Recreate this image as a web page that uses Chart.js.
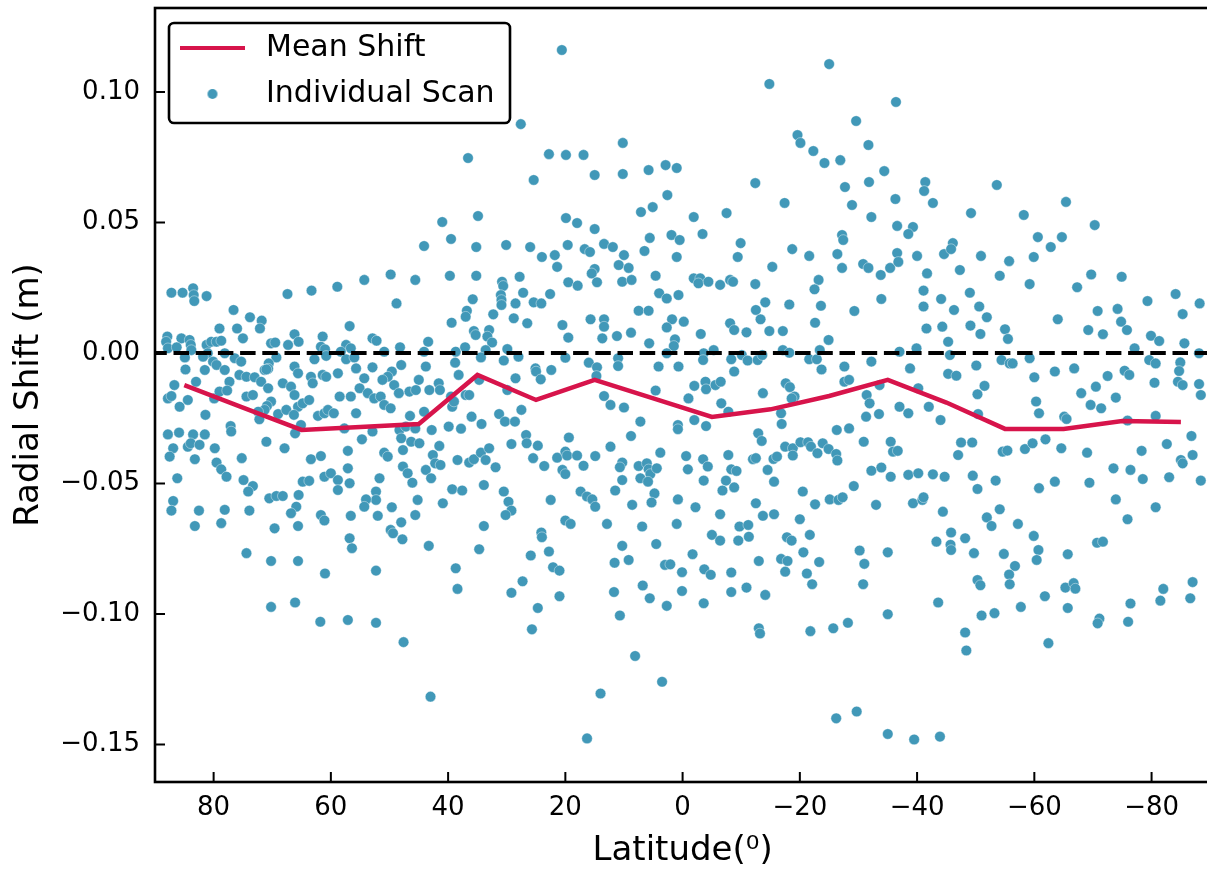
<!DOCTYPE html>
<html>
<head>
<meta charset="utf-8">
<script src="https://cdn.jsdelivr.net/npm/chart.js@4.4.1/dist/chart.umd.min.js"></script>
<style>
  html, body { margin: 0; padding: 0; background: #fff; overflow: hidden; }
  #wrap { position: relative; width: 1216px; height: 873px; }
</style>
</head>
<body>
<div id="wrap"><canvas id="shiftChart"></canvas></div>
<script>
// mean shift per 10 degree latitude bin
const meanLat = [85, 75, 65, 55, 45, 35, 25, 15, 5, -5, -15, -25, -35, -45, -55, -65, -75, -85];
const meanShift = [-0.0123, -0.0209, -0.0295, -0.0284, -0.0272, -0.0084, -0.0180, -0.0103, -0.0174,
  -0.0245, -0.0216, -0.0165, -0.0103, -0.0190, -0.0291, -0.0291, -0.0261, -0.0264];

// individual scans (latitude in degrees, radial shift in m)
const scanLat = [
  20.6, 27.6, 36.6, 22.8, 19.9, 16.9, 10.2, 25.4, 15.0, 10.2,
  5.8, 2.9, 1.0, 2.6, 7.1, 5.1, 41.0, 34.9, 19.9, 18.0,
  15.0, 39.5, 44.1, 35.2, 30.1, 26.0, 24.0, 21.8, 19.6, 16.7,
  15.8, 13.4, 11.9, 10.0, 10.9, 9.2, 5.6, 6.5, 1.9, 0.5,
  1.0, 21.4, 15.0,
  -25.0, -14.8, -36.4, -29.6, -19.6, -20.1, -22.3, -24.2, -26.9, -31.7,
  -34.4, -12.4, -27.7, -31.8, -41.4, -41.2, -42.7, -36.3, -17.4, -28.9,
  -32.2, -1.9, -7.5, -3.4, -9.9, -9.4, -18.7, -21.6, -15.3, -27.2,
  -27.4, -26.4, -27.2, -30.8, -31.7, -35.4, -36.6, -36.8, -36.6, -39.3,
  -38.5, -40.0, -44.6,
  -53.6, -49.2, -58.2, -65.4, -70.3, -60.6, -64.7, -62.8, -46.1, -45.8,
  -50.9, -55.7, -59.9, -47.3,
  87.2, 85.3, 83.5, 83.4, 83.3, 81.2, 67.4, 63.3, 58.9, 54.3,
  49.8, 45.6, 48.8, 76.6, 73.8, 71.8, 72.1, 79.0, 76.0, 56.8,
  87.9, 85.5, 84.1, 75.0, 66.2, 61.4, 52.9, 88.1, 83.9, 81.2,
  80.4, 79.5, 78.7, 65.5, 70.2, 69.5, 67.3, 61.7, 61.0, 57.4,
  56.6, 52.2, 50.9, 48.2, 87.8, 86.3, 83.8, 81.0, 78.1, 58.3,
  84.9, 81.8, 80.1, 79.5, 76.4, 75.3, 69.3, 62.8, 60.8, 57.4,
  56.0, 70.6, 70.7, 71.3, 66.2, 65.6, 55.7, 52.9, 48.0, 84.8,
  81.5, 78.1, 71.0, 49.6, 50.3, 51.2, 83.0, 86.7, 77.3, 75.6,
  74.4, 73.0, 71.9, 68.2, 66.8, 63.4, 63.1, 61.4, 60.8, 58.8,
  54.3, 49.2, 45.0, 87.8, 87.2, 85.8, 84.4, 79.9, 79.0, 77.7,
  74.4, 73.3, 70.7, 70.2, 70.9, 71.3, 72.4, 69.0, 67.6, 66.2,
  65.6, 66.3, 64.8, 63.7, 62.2, 61.1, 60.5, 59.5, 58.5, 56.6,
  55.7, 55.1, 53.7, 52.6, 51.5, 50.9, 49.8, 48.4, 46.6, 45.5,
  46.5, 81.4, 72.2, 77.1, 77.0, 87.8, 85.9, 83.5, 81.5, 65.1,
  66.1, 57.7, 52.9, 48.3, 47.2, 45.6, 84.4, 83.9, 82.4, 86.9,
  79.8, 71.0, 67.9, 54.7, 48.0, 46.3, 47.7, 57.1, 87.5, 83.2,
  79.5, 78.7, 77.8, 75.2, 63.4, 61.7, 50.9, 50.3, 47.7, 46.9,
  57.1, 86.2, 74.9, 73.3, 74.1, 64.8, 63.7, 61.1, 60.0, 58.8,
  58.8, 56.8, 51.7, 46.1, 52.3, 52.3, 54.0, 70.5, 69.3, 68.2,
  65.5, 86.9, 45.2, 54.3, 49.6, 87.2, 82.5, 78.1, 73.9, 65.9,
  66.8, 61.7, 61.1, 56.6, 52.0, 45.6, 48.0, 83.2, 78.7, 69.6,
  65.6, 49.8,
  74.4, 70.2, 65.6, 61.0, 56.8, 56.4, 49.4, 47.8, 52.3, 70.2,
  66.1, 61.8, 57.1, 52.3, 47.6,
  43.3, 34.7, 38.7, 38.4, 24.1, 24.0, 25.9, 22.8, 22.1, 21.0,
  27.3, 29.2, 21.0, 24.7, 25.7, 4.5, 10.3, 11.6, 9.2, 3.0,
  2.1, 0.1, 11.7, 6.8, 5.6, 2.7, 0.1, 10.7, 8.1, 3.5,
  14.0, 16.3, 43.0,
  39.7, 35.2, 27.8, 30.8, 30.6, 31.0, 30.9, 30.9, 28.5, 27.2,
  25.4, 24.1, 22.6, 19.5, 17.9, 15.5, 14.6, 10.3, 8.7, 4.6,
  4.0, 2.7, 0.7, 35.8, 36.8, 37.0, 39.4, 32.3, 28.8, 26.5,
  20.5, 19.5, 15.7, 13.4, 13.4, 13.7, 11.2, 8.8, 7.5, 5.8,
  1.8, 2.7, 1.3, 1.5, 5.7, 35.6, 35.3, 33.0, 33.3, 32.5,
  43.4, 44.1, 38.7, 37.1, 33.6, 29.9, 28.0, 34.4, 30.5, 20.0,
  16.0, 14.6, 11.0, 11.0, 2.7, 43.8, 38.8, 38.2, 34.7, 28.5,
  25.1, 25.0, 24.2, 22.4, 14.7, 4.1, 0.7, 43.2, 41.6, 41.4,
  39.5, 39.3, 39.0, 37.0, 36.4, 29.9, 4.6, 13.4, 12.3, 10.0,
  44.1, 42.8, 39.9, 37.8, 36.0, 34.3, 31.3, 30.3, 28.6, 27.5,
  44.9, 41.5, 42.6, 42.2, 41.3, 38.4, 36.4, 35.6, 34.4, 33.6,
  33.0, 31.9, 29.2, 26.7, 26.6, 24.7, 25.5, 23.6, 21.4, 20.0,
  19.7, 19.4, 18.0, 16.9, 14.9, 12.3, 10.3, 10.7, 8.8, 7.2,
  3.8, 0.8, 0.8, 43.8, 42.9, 40.9, 39.3, 37.6, 33.9, 30.5,
  29.7, 29.2, 30.2, 20.5, 20.0, 10.3, 7.5, 6.1, 5.8, 5.5,
  4.4, 7.2, 5.9, 17.4, 16.3, 15.4, 14.9, 22.5, 11.5, 4.8,
  8.6, 5.3, 0.8, 20.0, 19.1, 33.9, 12.9, 6.9, 1.0,
  -1.9, -3.0, -2.7, -4.4, -6.4, -8.1, -8.6, -12.4, -23.2, -22.5,
  -33.8, -41.7, -41.1, -41.1, -44.1, -33.9, -14.1, -18.2, -23.6, -12.5,
  -13.3, -8.1, -8.8, -10.9, -14.8, -17.1, -22.6, -29.3, -3.1, -0.2,
  -24.9, -41.6, -44.3, -45.3, -5.3, -3.6, -3.5, -8.3, -10.1, -11.1,
  -12.8, -13.6, -17.1, -18.2, -21.6, -22.9, -23.4, -23.7, -27.6, -32.2,
  -37.0, -39.9, -38.8, -45.3, -8.8, -2.0, -3.9, -4.0, -5.6, -6.5,
  -1.0, -13.7, -17.6, -18.3, -19.1, -18.6, -27.6, -28.4, -33.6, -31.4,
  -31.9, -40.2, -6.6, -7.8, -16.8, -16.9, -31.3, -33.5, -37.0, -38.5,
  -42.0, -44.0, -2.0, -4.0, -26.3, -28.4, -12.9, -13.5, -17.5, -18.8,
  -18.8, -20.1, -21.4, -21.9, -23.0, -23.9, -24.9, -26.2, -26.4, -30.9,
  -35.5, -35.9, -36.7, -0.6, -3.5, -4.3, -7.8, -8.3, -9.2, -12.0,
  -12.5, -15.5, -16.1, -14.5, -0.9, -32.2, -33.9, -35.5, -38.5, -40.2,
  -42.7, -44.7, -3.6, -7.4, -6.8, -8.8, -15.6, -20.5, -29.2, -25.1,
  -26.6, -27.3, -33.0, -39.3, -40.9, -41.1, -22.6, -12.5, -2.2, -6.4,
  -13.7, -15.6, -20.0, -9.7, -11.2, -44.4,
  -54.1, -59.2, -67.3, -69.7, -74.9, -49.0, -50.6, -46.3, -51.9, -49.1,
  -50.8, -55.0, -55.5, -64.0, -69.2, -71.7, -70.8, -74.2, -74.8, -75.8,
  -79.3, -79.9, -81.3, -84.1, -85.3, -85.6, -88.2, -45.6, -54.4, -55.8,
  -56.3, -59.2, -77.1, -79.6, -80.7, -84.9, -88.1, -50.1, -46.7, -63.5,
  -66.8, -60.0, -72.5, -75.4, -76.2, -84.7, -84.5, -85.3, -80.5, -88.1,
  -88.4, -51.5, -50.3, -68.0, -70.5, -73.9, -69.6, -71.4, -60.3, -60.8,
  -50.4, -65.1, -65.5, -75.9, -80.7, -47.5, -49.4, -47.0, -54.6, -55.4,
  -58.4, -59.7, -61.9, -64.6, -69.0, -78.3, -82.6, -86.8, -85.0, -85.3,
  -87.0, -49.5, -50.3, -53.4, -60.8, -63.5, -69.4, -73.5, -76.4, -78.5,
  -83.0, -88.4, -73.9, -80.7, -54.1, -51.9, -52.7, -57.2, -75.9,
  -5.0, -6.4, -9.5, -11.3, -1.7, -3.7, -4.8, -8.3, -8.3, -10.9,
  -3.6, -13.0, -14.1, -13.0, -13.2, -16.8, -17.9, -17.5, -17.8, -18.6,
  -21.7, -20.6, -21.2, -22.1, -23.3, -21.8, -25.7, -28.2, -30.2, -31.0,
  -30.8, -35.0, -35.0, -26.2, -29.7, -35.0, -39.5, -43.9, -43.3, -43.6,
  -45.8, -45.7, -45.8, -48.2, -49.7, -54.8, -59.9, -60.7, -60.4, -56.7,
  -55.7, -55.8, -50.3, -50.8, -65.7, -70.7, -71.7, -51.0, -53.2, -57.7,
  -61.8, -65.3, -66.7, -67.0, -65.7, -48.2, -48.4, -62.4, -71.1, -70.8,
  -76.0, -76.4, -81.5, -82.0, -86.6, -87.0
];
const scanShift = [
  0.1161, 0.0877, 0.0747, 0.0762, 0.0759, 0.0759, 0.0805, 0.0663, 0.0682, 0.0686,
  0.0701, 0.0720, 0.0709, 0.0605, 0.0540, 0.0559, 0.0502, 0.0525, 0.0517, 0.0498,
  0.0475, 0.0437, 0.0410, 0.0406, 0.0414, 0.0406, 0.0368, 0.0375, 0.0414, 0.0398,
  0.0387, 0.0418, 0.0406, 0.0375, 0.0337, 0.0326, 0.0441, 0.0391, 0.0452, 0.0433,
  0.0368, 0.0330, 0.0322,
  0.1107, 0.1031, 0.0962, 0.0889, 0.0835, 0.0805, 0.0774, 0.0728, 0.0739, 0.0797,
  0.0697, 0.0651, 0.0636, 0.0655, 0.0655, 0.0621, 0.0575, 0.0590, 0.0575, 0.0567,
  0.0521, 0.0521, 0.0536, 0.0456, 0.0421, 0.0368, 0.0398, 0.0372, 0.0330, 0.0452,
  0.0433, 0.0379, 0.0326, 0.0341, 0.0326, 0.0326, 0.0383, 0.0349, 0.0487, 0.0483,
  0.0456, 0.0372, 0.0379,
  0.0644, 0.0536, 0.0529, 0.0579, 0.0490, 0.0444, 0.0444, 0.0406, 0.0421, 0.0398,
  0.0372, 0.0352, 0.0368, 0.0318,
  0.0231, 0.0231, 0.0248, 0.0222, 0.0199, 0.0218, 0.0226, 0.0239, 0.0254, 0.0280,
  0.0301, 0.0280, 0.0190, 0.0165, 0.0137, 0.0124, 0.0094, 0.0094, 0.0094, 0.0103,
  0.0063, 0.0056, 0.0050, 0.0056, 0.0072, 0.0063, 0.0056, 0.0043, 0.0031, 0.0031,
  0.0043, 0.0043, 0.0047, 0.0043, 0.0037, 0.0040, 0.0031, 0.0024, 0.0014, 0.0031,
  0.0018, 0.0047, 0.0005, 0.0022, 0.0018, 0.0022, 0.0011, -0.0001, -0.0001, 0.0005,
  -0.0017, -0.0014, -0.0033, -0.0046, -0.0020, -0.0033, -0.0017, -0.0024, -0.0011, -0.0024,
  -0.0017, -0.0040, -0.0060, -0.0065, -0.0052, -0.0078, -0.0059, -0.0055, -0.0046, -0.0063,
  -0.0065, -0.0065, -0.0063, -0.0071, -0.0091, -0.0103, -0.0110, -0.0123, -0.0110, -0.0084,
  -0.0091, -0.0093, -0.0110, -0.0116, -0.0129, -0.0091, -0.0116, -0.0084, -0.0091, -0.0078,
  -0.0097, -0.0123, -0.0103, -0.0174, -0.0165, -0.0206, -0.0180, -0.0174, -0.0148, -0.0144,
  -0.0167, -0.0161, -0.0135, -0.0186, -0.0203, -0.0218, -0.0225, -0.0234, -0.0218, -0.0161,
  -0.0206, -0.0237, -0.0193, -0.0180, -0.0241, -0.0231, -0.0218, -0.0231, -0.0167, -0.0167,
  -0.0231, -0.0135, -0.0154, -0.0174, -0.0167, -0.0199, -0.0212, -0.0154, -0.0148, -0.0142,
  -0.0241, -0.0237, -0.0254, -0.0280, -0.0301, -0.0312, -0.0305, -0.0312, -0.0312, -0.0276,
  -0.0308, -0.0289, -0.0301, -0.0295, -0.0282, -0.0289, -0.0359, -0.0346, -0.0352, -0.0365,
  -0.0365, -0.0340, -0.0365, -0.0331, -0.0327, -0.0340, -0.0372, -0.0375, -0.0397, -0.0407,
  -0.0420, -0.0446, -0.0474, -0.0403, -0.0407, -0.0395, -0.0382, -0.0397, -0.0435, -0.0461,
  -0.0442, -0.0480, -0.0487, -0.0510, -0.0531, -0.0493, -0.0490, -0.0474, -0.0461, -0.0487,
  -0.0525, -0.0499, -0.0480, -0.0497, -0.0531, -0.0563, -0.0561, -0.0557, -0.0548, -0.0548,
  -0.0544, -0.0567, -0.0563, -0.0589, -0.0591, -0.0604, -0.0604, -0.0601, -0.0604, -0.0589,
  -0.0614, -0.0621, -0.0642, -0.0624, -0.0624, -0.0621, -0.0649, -0.0663, -0.0652, -0.0672,
  -0.0663, -0.0678,
  -0.0767, -0.0797, -0.0797, -0.0845, -0.0710, -0.0748, -0.0691, -0.0714, -0.0834, -0.0973,
  -0.0956, -0.1030, -0.1023, -0.1034, -0.1108,
  -0.0739, -0.0752, -0.0825, -0.0904, -0.0688, -0.0706, -0.0776, -0.0761, -0.0821, -0.0834,
  -0.0875, -0.0919, -0.0932, -0.0977, -0.1059, -0.0732, -0.0739, -0.0804, -0.0793, -0.0812,
  -0.0810, -0.0840, -0.0916, -0.0891, -0.0940, -0.0969, -0.0912, -0.1006, -0.1161, -0.1260,
  -0.1305, -0.1477, -0.1317,
  0.0296, 0.0296, 0.0292, 0.0273, 0.0257, 0.0222, 0.0203, 0.0184, 0.0190, 0.0231,
  0.0194, 0.0190, 0.0226, 0.0271, 0.0258, 0.0305, 0.0271, 0.0273, 0.0280, 0.0296,
  0.0229, 0.0209, 0.0222, 0.0206, 0.0162, 0.0139, 0.0116, 0.0148, 0.0133, 0.0114,
  0.0107, 0.0059, 0.0129, 0.0129, 0.0101, 0.0056, 0.0065, 0.0078, 0.0162, 0.0162,
  0.0129, 0.0098, 0.0052, 0.0027, 0.0037, 0.0084, 0.0069, 0.0088, 0.0063, 0.0040,
  0.0043, 0.0005, 0.0005, 0.0022, 0.0011, 0.0015, -0.0014, -0.0017, -0.0029, -0.0018,
  -0.0037, -0.0055, -0.0020, -0.0050, -0.0001, -0.0052, -0.0037, -0.0084, -0.0103, -0.0097,
  -0.0059, -0.0071, -0.0101, -0.0065, -0.0088, -0.0052, -0.0052, -0.0142, -0.0116, -0.0142,
  -0.0167, -0.0206, -0.0186, -0.0161, -0.0161, -0.0142, -0.0144, -0.0165, -0.0199, -0.0209,
  -0.0225, -0.0295, -0.0282, -0.0290, -0.0244, -0.0272, -0.0234, -0.0263, -0.0263, -0.0218,
  -0.0346, -0.0356, -0.0391, -0.0423, -0.0429, -0.0410, -0.0420, -0.0407, -0.0382, -0.0410,
  -0.0365, -0.0438, -0.0349, -0.0314, -0.0346, -0.0355, -0.0403, -0.0433, -0.0401, -0.0378,
  -0.0393, -0.0324, -0.0393, -0.0432, -0.0395, -0.0359, -0.0420, -0.0438, -0.0318, -0.0263,
  -0.0382, -0.0276, -0.0292, -0.0448, -0.0480, -0.0576, -0.0522, -0.0527, -0.0506, -0.0531,
  -0.0570, -0.0604, -0.0621, -0.0448, -0.0464, -0.0487, -0.0433, -0.0423, -0.0446, -0.0464,
  -0.0442, -0.0480, -0.0493, -0.0531, -0.0550, -0.0561, -0.0589, -0.0563, -0.0527, -0.0538,
  -0.0582, -0.0573, -0.0561, -0.0642, -0.0655, -0.0663, -0.0655, -0.0665, -0.0655,
  0.0286, 0.0286, 0.0267, 0.0273, 0.0261, 0.0280, 0.0273, 0.0264, 0.0280, 0.0244,
  0.0299, 0.0305, 0.0239, 0.0178, 0.0207, 0.0207, 0.0194, 0.0186, 0.0181, 0.0165,
  0.0129, 0.0114, 0.0088, 0.0079, 0.0084, 0.0084, 0.0116, 0.0161, 0.0073, 0.0120,
  0.0050, 0.0094, 0.0101, 0.0043, 0.0011, -0.0001, -0.0027, -0.0024, -0.0008, -0.0029,
  -0.0027, -0.0008, 0.0011, 0.0001, -0.0024, -0.0024, 0.0011, -0.0063, -0.0052, -0.0033,
  0.0005, 0.0018, -0.0059, -0.0080, -0.0071, -0.0126, -0.0110, -0.0139, -0.0123, -0.0110,
  -0.0174, -0.0154, -0.0116, -0.0131, -0.0167, -0.0174, -0.0110, -0.0103, -0.0123, -0.0161,
  -0.0193, -0.0135, -0.0193, -0.0225, -0.0231, -0.0272, -0.0244, -0.0234, -0.0206, -0.0231,
  -0.0206, -0.0257, -0.0257, -0.0280, -0.0295, -0.0289, -0.0308, -0.0337, -0.0359, -0.0365,
  -0.0393, -0.0342, -0.0342, -0.0359, -0.0384, -0.0346, -0.0368, -0.0387, -0.0412, -0.0340,
  -0.0340, -0.0378, -0.0375, -0.0395, -0.0407, -0.0435, -0.0391, -0.0446, -0.0452, -0.0407,
  -0.0403, -0.0406, -0.0397, -0.0448, -0.0446, -0.0451, -0.0439, -0.0474, -0.0467, -0.0461,
  -0.0465, -0.0474, -0.0489, -0.0489, -0.0527, -0.0515, -0.0493, -0.0531, -0.0510, -0.0561,
  -0.0563, -0.0553, -0.0582, -0.0576, -0.0563, -0.0553, -0.0580, -0.0576, -0.0591, -0.0618,
  -0.0624, -0.0618, -0.0637, -0.0665, -0.0659, -0.0608,
  0.0296, 0.0264, 0.0252, 0.0301, 0.0292, 0.0231, 0.0178, 0.0165, 0.0137, 0.0105,
  0.0073, 0.0091, 0.0054, 0.0129, 0.0088, 0.0072, 0.0161, 0.0169, 0.0120, 0.0088,
  0.0199, 0.0066, 0.0046, 0.0226, 0.0149, 0.0037, 0.0190, -0.0008, -0.0027, -0.0040,
  -0.0040, -0.0020, 0.0018, -0.0027, -0.0040, -0.0036, -0.0001, -0.0048, -0.0087, -0.0071,
  -0.0059, -0.0093, -0.0088, -0.0068, -0.0084, -0.0069, -0.0110, -0.0123, -0.0114, -0.0119,
  -0.0161, -0.0126, -0.0158, -0.0154, -0.0129, -0.0171, -0.0199, -0.0212, -0.0186, -0.0231,
  -0.0234, -0.0244, -0.0253, -0.0259, -0.0241, -0.0343, -0.0343, -0.0391, -0.0378, -0.0374,
  -0.0368, -0.0346, -0.0331, -0.0365, -0.0382, -0.0375, -0.0349, -0.0318, -0.0410, -0.0423,
  -0.0391, -0.0470, -0.0521, -0.0489, -0.0518, -0.0493, -0.0497, -0.0442, -0.0448, -0.0483,
  -0.0476, -0.0489, -0.0561, -0.0591, -0.0599, -0.0630, -0.0663, -0.0655, -0.0637,
  -0.0697, -0.0719, -0.0719, -0.0704, -0.0771, -0.0829, -0.0850, -0.0841, -0.0916, -0.0899,
  -0.0959, -0.0797, -0.0927, -0.1055, -0.1075, -0.0789, -0.0797, -0.0838, -0.0706, -0.0719,
  -0.0697, -0.0764, -0.0845, -0.0886, -0.0801, -0.1066, -0.1055, -0.1034, -0.0757, -0.0808,
  -0.0886, -0.0764, -0.1001, -0.1400, -0.1374, -0.1460, -0.1481, -0.1470, -0.0723, -0.0956,
  -0.0688, -0.0735, -0.0755, -0.0710, -0.0767, -0.0770, -0.0701, -0.0755, -0.0793, -0.0816,
  -0.0849, -0.0886, -0.0870, -0.0890, -0.0771, -0.0727, -0.0723, -0.1006, -0.0997, -0.0973,
  -0.0932, -0.0899, -0.0882, -0.0903, -0.0977, -0.1071, -0.1140, -0.1112, -0.1018, -0.1036,
  -0.1030, -0.0960, -0.0949, -0.0904, -0.0940, -0.0878
];

const xTicks = [80, 60, 40, 20, 0, -20, -40, -60, -80];
const yTicks = [-0.15, -0.10, -0.05, 0.00, 0.05, 0.10];
const xLimits = [-90, 90];
const yLimits = [-0.1644, 0.1322];

const SCAN_COLOR = '#4198b8';
const MEAN_COLOR = '#d7144b';
const FONT = "'DejaVu Sans', sans-serif";

const minus = s => s.replace('-', '\u2212');

// small canvases used as legend symbols
function lineSymbol() {
  const c = document.createElement('canvas');
  c.width = 65; c.height = 4;
  const g = c.getContext('2d');
  g.fillStyle = MEAN_COLOR;
  g.fillRect(0, 0, 65, 4);
  return c;
}
function dotSymbol() {
  const c = document.createElement('canvas');
  c.width = 12; c.height = 12;
  const g = c.getContext('2d');
  g.fillStyle = SCAN_COLOR;
  g.beginPath();
  g.arc(6, 6, 5, 0, Math.PI * 2);
  g.fill();
  return c;
}
const legendSymbols = { 'Mean Shift': lineSymbol(), 'Individual Scan': dotSymbol() };

// keep the scales from reserving room for end labels
const noPad = s => { s.paddingTop = 0; s.paddingBottom = 0; s.paddingLeft = 0; s.paddingRight = 0; };

// box around the plot, inward ticks, legend frame
const framePlugin = {
  id: 'frame',
  afterLayout(chart) {
    chart.legend.left = chart.chartArea.left + 3;
    chart.legend.top = chart.chartArea.top + 9;
  },
  beforeDraw(chart) {
    const { ctx, chartArea: a } = chart;
    ctx.save();
    ctx.beginPath();
    ctx.roundRect(a.left + 14, a.top + 15, 341, 100, 5);
    ctx.fillStyle = '#fff';
    ctx.fill();
    ctx.lineWidth = 2.6;
    ctx.strokeStyle = '#000';
    ctx.stroke();
    ctx.restore();
  },
  afterDraw(chart) {
    const { ctx, chartArea: a, scales } = chart;
    ctx.save();
    ctx.strokeStyle = '#000';
    ctx.lineWidth = 2;
    ctx.beginPath();
    scales.x.ticks.forEach(t => {
      const px = scales.x.getPixelForValue(t.value);
      ctx.moveTo(px, a.bottom);
      ctx.lineTo(px, a.bottom - 10);
    });
    scales.y.ticks.forEach(t => {
      const py = scales.y.getPixelForValue(t.value);
      ctx.moveTo(a.left, py);
      ctx.lineTo(a.left + 10, py);
    });
    ctx.stroke();
    ctx.lineWidth = 2.6;
    ctx.strokeRect(a.left, a.top, a.right - a.left, a.bottom - a.top);
    ctx.restore();
  }
};

const ctx = document.getElementById('shiftChart').getContext('2d');
const shiftChart = new Chart(ctx, {
  type: 'scatter',
  data: {
    datasets: [
      {
        label: 'Mean Shift',
        data: meanLat.map((lat, i) => ({ x: lat, y: meanShift[i] })),
        showLine: true,
        borderColor: MEAN_COLOR,
        backgroundColor: MEAN_COLOR,
        borderWidth: 4.5,
        pointRadius: 0,
        order: 1
      },
      {
        label: 'zero',
        data: xLimits.map(lat => ({ x: lat, y: 0 })),
        showLine: true,
        borderColor: '#000',
        borderWidth: 4,
        borderDash: [15.5, 6.7],
        pointRadius: 0,
        order: 2
      },
      {
        label: 'Individual Scan',
        data: scanLat.map((lat, i) => ({ x: lat, y: scanShift[i] })),
        backgroundColor: SCAN_COLOR,
        borderColor: 'rgba(255,255,255,0.8)',
        borderWidth: 0.5,
        pointRadius: 5.3,
        order: 3
      }
    ]
  },
  options: {
    responsive: true,
    maintainAspectRatio: false,
    animation: false,
    layout: { padding: { top: 8, right: 3, left: 0, bottom: 0 } },
    plugins: {
      tooltip: { enabled: false },
      legend: {
        position: 'chartArea',
        align: 'start',
        labels: {
          usePointStyle: true,
          pointStyleWidth: 77,
          padding: 16,
          color: '#000',
          font: { family: FONT, size: 30 },
          filter: item => item.text !== 'zero',
          generateLabels(chart) {
            const items = Chart.defaults.plugins.legend.labels.generateLabels(chart);
            items.forEach(it => { if (legendSymbols[it.text]) it.pointStyle = legendSymbols[it.text]; });
            return items;
          }
        }
      }
    },
    scales: {
      x: {
        type: 'linear',
        reverse: true,
        min: xLimits[0],
        max: xLimits[1],
        grid: { display: false, drawTicks: false },
        border: { display: false },
        afterBuildTicks: s => { s.ticks = xTicks.map(v => ({ value: v })); },
        afterFit: s => { s.height = 91; noPad(s); },
        ticks: {
          padding: 11,
          color: '#000',
          font: { family: FONT, size: 26 },
          callback: v => minus(String(v))
        },
        title: {
          display: true,
          text: 'Latitude(\u2070)',
          color: '#000',
          font: { family: FONT, size: 34 },
          padding: { top: 0, bottom: 1.6 }
        }
      },
      y: {
        type: 'linear',
        min: yLimits[0],
        max: yLimits[1],
        grid: { display: false, drawTicks: false },
        border: { display: false },
        afterBuildTicks: s => { s.ticks = yTicks.map(v => ({ value: v })); },
        afterFit: s => { s.width = 155; noPad(s); },
        ticks: {
          padding: 15,
          color: '#000',
          font: { family: FONT, size: 26 },
          callback: v => minus(v.toFixed(2))
        },
        title: {
          display: true,
          text: 'Radial Shift (m)',
          color: '#000',
          font: { family: FONT, size: 34 },
          padding: { top: 8.6, bottom: 0 }
        }
      }
    }
  },
  plugins: [framePlugin]
});
</script>
</body>
</html>
